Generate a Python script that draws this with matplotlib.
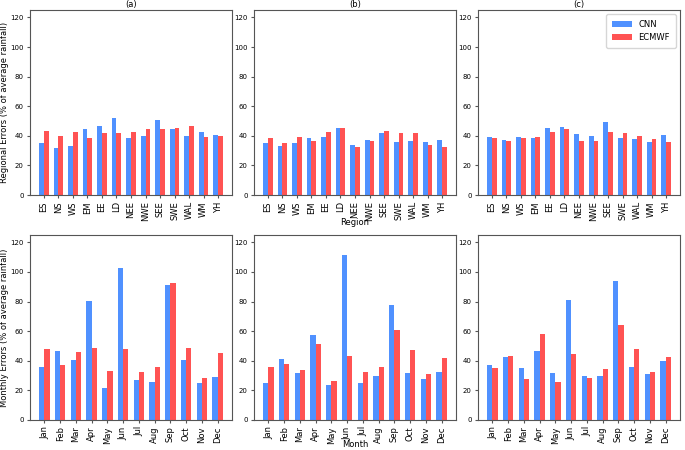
import numpy as np
import matplotlib
matplotlib.use('Agg')
import matplotlib.pyplot as plt

regions = ['ES', 'NS', 'WS', 'EM', 'EE', 'LD', 'NEE', 'NWE', 'SEE', 'SWE', 'WAL', 'WM', 'YH']
months = ['Jan', 'Feb', 'Mar', 'Apr', 'May', 'Jun', 'Jul', 'Aug', 'Sep', 'Oct', 'Nov', 'Dec']

reg_cnn_a = [35.0, 31.6, 33.0, 44.3, 46.8, 51.8, 38.4, 39.8, 50.8, 44.5, 40.2, 42.3, 40.7]
reg_ecm_a = [43.2, 40.2, 42.9, 38.2, 42.0, 41.6, 42.9, 44.3, 44.5, 45.4, 46.3, 39.3, 39.8]
reg_cnn_b = [34.8, 33.2, 34.8, 38.2, 39.5, 45.2, 33.7, 37.3, 41.8, 35.5, 36.4, 35.9, 37.3]
reg_ecm_b = [38.4, 34.8, 39.1, 36.8, 42.9, 45.6, 32.3, 36.8, 43.4, 42.0, 41.6, 34.1, 32.3]
reg_cnn_c = [39.1, 37.5, 39.5, 38.4, 45.4, 45.9, 40.9, 40.2, 49.0, 38.4, 37.7, 35.9, 40.7]
reg_ecm_c = [38.4, 36.4, 38.2, 38.9, 42.5, 44.7, 36.8, 36.8, 42.5, 42.0, 40.2, 37.7, 35.7]

mon_cnn_a = [35.8, 46.9, 40.8, 80.1, 21.3, 102.6, 26.9, 25.8, 91.5, 40.8, 24.7, 28.8]
mon_ecm_a = [47.8, 37.1, 45.7, 48.9, 32.8, 47.8, 32.1, 35.5, 92.6, 48.9, 28.3, 45.1]
mon_cnn_b = [25.1, 41.0, 31.7, 57.3, 23.8, 111.4, 24.7, 29.7, 77.9, 31.7, 27.8, 32.6]
mon_ecm_b = [35.5, 38.0, 34.0, 51.6, 26.5, 43.2, 32.6, 35.8, 61.1, 47.1, 30.8, 41.9]
mon_cnn_c = [37.4, 42.3, 35.3, 46.6, 31.9, 81.3, 29.4, 29.9, 93.7, 35.8, 31.2, 39.6]
mon_ecm_c = [35.3, 43.0, 27.8, 58.0, 25.8, 44.8, 28.3, 34.6, 64.3, 48.0, 32.6, 42.8]

blue = '#3d85ff'
red = '#ff4040'
w = 0.33
fs = 6

fig = plt.figure(figsize=(6.85, 4.5), dpi=100)
lefts = [30/685, 254/685, 478/685]
width = 202/685
height = 185/450

top_data = [(reg_cnn_a, reg_ecm_a), (reg_cnn_b, reg_ecm_b), (reg_cnn_c, reg_ecm_c)]
bot_data = [(mon_cnn_a, mon_ecm_a), (mon_cnn_b, mon_ecm_b), (mon_cnn_c, mon_ecm_c)]
titles = ['(a)', '(b)', '(c)']

def draw(ax, cats, cnn, ecm):
    x = np.arange(len(cats))
    ax.bar(x - w/2, cnn, w, color=blue, alpha=0.9, label='CNN')
    ax.bar(x + w/2, ecm, w, color=red, alpha=0.9, label='ECMWF')
    ax.set_xticks(x)
    ax.set_xticklabels(cats, rotation=90, fontsize=fs)
    ax.set_ylim(0, 125)
    ax.set_yticks(range(0, 121, 20))
    ax.tick_params(axis='y', labelsize=5)
    ax.tick_params(length=2.5, color='#555555', pad=2)
    for s in ax.spines.values():
        s.set_color('#555555')

for i in range(3):
    ax = fig.add_axes([lefts[i], 1 - 195/450, width, height])
    draw(ax, regions, *top_data[i])
    ax.set_title(titles[i], fontsize=fs, pad=2)
    if i == 0:
        ax.set_ylabel('Regional Errors (% of average rainfall)', fontsize=fs)
        ax.yaxis.set_label_coords(-0.105, 0.5)
    if i == 1:
        ax.set_xlabel('Region', fontsize=fs, va='center')
        ax.xaxis.set_label_coords(0.5, -0.151)
    if i == 2:
        ax.legend(loc='upper right', fontsize=fs, borderpad=0.7, handlelength=2.4)

    ax = fig.add_axes([lefts[i], 1 - 420/450, width, height])
    draw(ax, months, *bot_data[i])
    if i == 0:
        ax.set_ylabel('Monthly Errors (% of average rainfall)', fontsize=fs)
        ax.yaxis.set_label_coords(-0.105, 0.5)
    if i == 1:
        ax.set_xlabel('Month', fontsize=fs, va='center')
        ax.xaxis.set_label_coords(0.5, -0.135)

fig.savefig('out.png', dpi=100)
